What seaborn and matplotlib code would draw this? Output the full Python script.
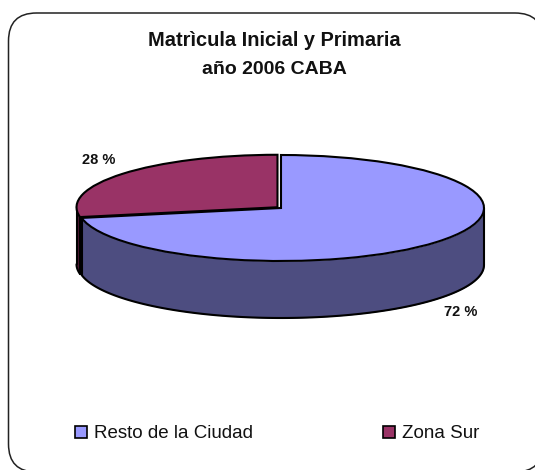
import numpy as np
import seaborn as sns
import matplotlib
matplotlib.use("Agg")
import matplotlib.pyplot as plt
from matplotlib.patches import FancyBboxPatch, Patch
from matplotlib.transforms import IdentityTransform

categories = ["Resto de la Ciudad", "Zona Sur"]
shares = [72, 28]
face_hex = ["#9999FF", "#993366"]
wall_hex = ["#4D4D80", "#4D1A33"]
title_lines = ["Matrìcula Inicial y Primaria", "año 2006 CABA"]

W, H = 535, 470
CX, CY = 281, 208   # pie centre in picture pixels
RX, RY = 203, 53    # radii of the squashed pie
DEPTH = 57 / RY     # wall height in pie units
START = 90
EXPLODE = 0.0225

sns.set_theme(style="white")
plt.rcParams['font.family'] = ['Liberation Sans', 'DejaVu Sans']
palette = sns.color_palette(face_hex)


def to_fig(px, py):
    return px / W, 1 - py / H


def draw_wall(ax, a0, a1, color, radius=1.0, dx=0.0, dy=0.0):
    # clockwise pie gives negative angles, the front of the ellipse is -180..0
    lo, hi = max(a0, -180), min(a1, 0)
    if lo >= hi:
        return
    t = np.radians(np.linspace(lo, hi, 120))
    x = radius * np.cos(t) + dx
    y = radius * np.sin(t) + dy
    ax.fill_between(x, y - DEPTH, y, color=color, linewidth=0, zorder=1)
    ax.plot(x, y - DEPTH, color="black", lw=1.5, zorder=1.5)
    ax.plot([x[0], x[0]], [y[0], y[0] - DEPTH], color="black", lw=1.5, zorder=1.5)
    ax.plot([x[-1], x[-1]], [y[-1], y[-1] - DEPTH], color="black", lw=1.5, zorder=1.5)


def main():
    fig = plt.figure(figsize=(W / 100, H / 100), dpi=100, facecolor="white")
    ax = fig.add_axes([0, 0, 1, 1])

    wedges, _ = ax.pie(
        shares,
        colors=palette,
        startangle=START,
        counterclock=False,
        explode=[0, EXPLODE],
        radius=1,
        wedgeprops={"edgecolor": "black", "linewidth": 1.5, "zorder": 3},
    )
    ax.set_aspect("auto")
    ax.set_xlim(-CX / RX, (W - CX) / RX)
    ax.set_ylim((CY - H) / RY, CY / RY)
    wedges[1].set_radius(0.99)

    # walls follow from the wedge angles
    for i, w in enumerate(wedges):
        mid = np.radians((w.theta1 + w.theta2) / 2)
        off = EXPLODE if i == 1 else 0
        draw_wall(ax, w.theta1, w.theta2, wall_hex[i], w.r,
                  off * np.cos(mid), off * np.sin(mid))

    # rounded chart border, runs off the picture at right and bottom
    # white face because agg bends the corners when it clips an unfilled path
    left, top, right, bottom = 8.5, 13, 543, 472
    rad = 28
    border = FancyBboxPatch(
        (left + rad, H - bottom + rad),
        right - left - 2 * rad,
        bottom - top - 2 * rad,
        boxstyle=f"round,pad={rad},rounding_size={rad}",
        transform=IdentityTransform(),
        facecolor="white",
        edgecolor="#222222",
        linewidth=1.1,
        clip_on=False,
        zorder=0,
    )
    ax.add_patch(border)

    for line, py, size in zip(title_lines, [41, 70], [14.4, 14]):
        x, y = to_fig(274, py)
        fig.text(x, y, line, ha="center", va="center", fontsize=size,
                 fontweight="bold", color="#111111")

    for share, (px, py, size) in zip(shares, [(461, 312, 10.5), (99, 160, 10.5)]):
        x, y = to_fig(px, py)
        fig.text(x, y, f"{share} %", ha="center", va="center", fontsize=size,
                 fontweight="bold", color="#111111")

    handles = [Patch(facecolor=palette[i], edgecolor="black", linewidth=1.2,
                     label=categories[i]) for i in range(len(categories))]
    ax.legend(
        handles=handles,
        ncol=2,
        frameon=False,
        fontsize=13.5,
        loc="center left",
        bbox_to_anchor=to_fig(58, 434),
        bbox_transform=fig.transFigure,
        handlelength=0.65,
        handleheight=0.65,
        handletextpad=0.35,
        columnspacing=6.95,
        labelcolor="#111111",
    )

    fig.savefig("out.png", dpi=100, facecolor="white")


if __name__ == "__main__":
    main()
